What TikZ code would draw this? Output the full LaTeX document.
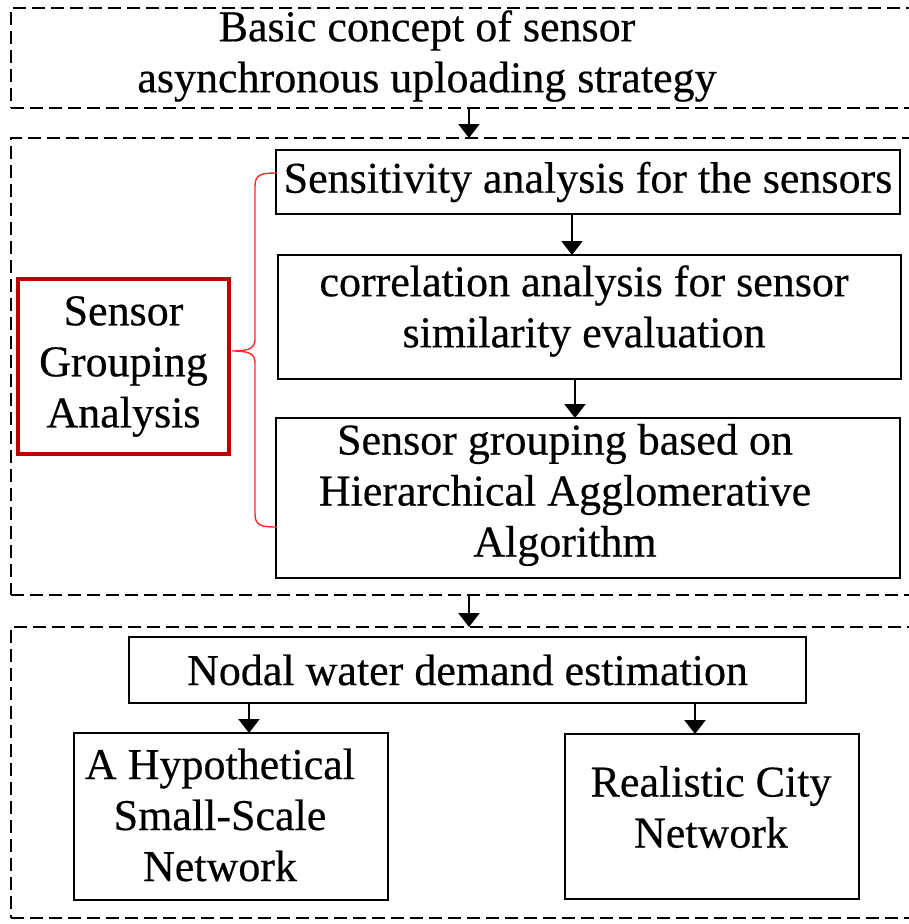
\documentclass[tikz,border=0pt]{standalone}
\usepackage{fontspec}
\setmainfont[FakeBold=0.4]{Liberation Serif}
\usetikzlibrary{arrows.meta,calc}
\definecolor{darkred}{RGB}{192,0,0}
\definecolor{bracered}{RGB}{255,40,40}
\begin{document}
\begin{tikzpicture}[x=1pt,y=-1pt,
  every node/.style={font=\fontsize{44}{51}\selectfont, align=center, inner sep=0pt, outer sep=0pt},
  box/.style={draw=black, line width=2.5pt},
  redbox/.style={draw=darkred, line width=3.2pt},
  region/.style={draw=black, line width=2.5pt, dash pattern=on 13pt off 6pt},
  arr/.style={line width=2.2pt, -{Triangle[width=21pt,length=14pt]}},
  bracepath/.style={draw=bracered, line width=1.4pt},
]
\useasboundingbox (0,0) rectangle (909,924);
\clip (0,0) rectangle (909,924);

% dashed stage regions (they run on past the right edge)
\node[region, line width=2pt, minimum width=917pt, minimum height=100pt] (top) at (469.5,58) {};
\node[region, minimum width=917pt, minimum height=457pt] (mid) at (469.5,366.5) {};
\node[region, minimum width=917pt, minimum height=291pt] (bot) at (469.5,772.5) {};

% stage 1
\node (basict) at (427,56) {Basic concept of sensor\\asynchronous uploading strategy};

% stage 2: sensor grouping
\node[box, minimum width=624pt, minimum height=64pt] (sens) at (588,182) {Sensitivity analysis for the sensors};
\node[box, minimum width=623pt, minimum height=124pt] (corr) at (589.5,317) {};
\node (corrt) at (584,311) {correlation analysis for sensor\\similarity evaluation};
\node[box, minimum width=624pt, minimum height=160pt] (grp) at (588,498) {};
\node (grpt) at (565,495) {Sensor grouping based on\\Hierarchical Agglomerative\\Algorithm};
\node[redbox, minimum width=211pt, minimum height=175pt] (sga) at (123.5,366.5) {Sensor\\Grouping\\Analysis};

% stage 3: demand estimation
\node[box, minimum width=677pt, minimum height=66pt] (nodal) at (467.5,670) {Nodal water demand estimation};
\node[box, minimum width=314pt, minimum height=167pt] (hyp) at (231,816.5) {};
\node (hypt) at (220,815) {A Hypothetical\\Small-Scale\\Network};
\node[box, minimum width=294pt, minimum height=165pt] (real) at (712,816.5) {};
\node (realt) at (711,807) {Realistic City\\Network};

% arrows
\coordinate (c1) at (469,0);
\coordinate (c2) at (572,0);
\coordinate (c3) at (575,0);
\coordinate (c5) at (249,0);
\coordinate (c6) at (695,0);
\draw[arr] (c1 |- top.south) -- (c1 |- mid.north);
\draw[arr] (c2 |- sens.south) -- (c2 |- corr.north);
\draw[arr] (c3 |- corr.south) -- (c3 |- grp.north);
\draw[arr] (c1 |- mid.south) -- (c1 |- bot.north);
\draw[arr] (c5 |- nodal.south) -- (c5 |- hyp.north);
\draw[arr] (c6 |- nodal.south) -- (c6 |- real.north);

% brace from the grouping label to the three steps
\coordinate (bA) at ($(sens.west)+(1,-9)$);
\coordinate (bB) at ($(grp.west)+(1,29)$);
\coordinate (bT) at ($(sga.east)+(3,-15.5)$);
\path[bracepath] (bA) .. controls ($(bA)+(-15,0)$) and ($(bA)+(-22,1)$) .. ($(bA)+(-22,13)$)
  -- ($(bT)+(23,-12)$) .. controls ($(bT)+(23,-3)$) and ($(bT)+(18,0)$) .. (bT)
  .. controls ($(bT)+(18,0)$) and ($(bT)+(23,3)$) .. ($(bT)+(23,12)$)
  -- ($(bB)+(-22,-13)$) .. controls ($(bB)+(-22,-1)$) and ($(bB)+(-15,0)$) .. (bB);
\end{tikzpicture}
\end{document}
